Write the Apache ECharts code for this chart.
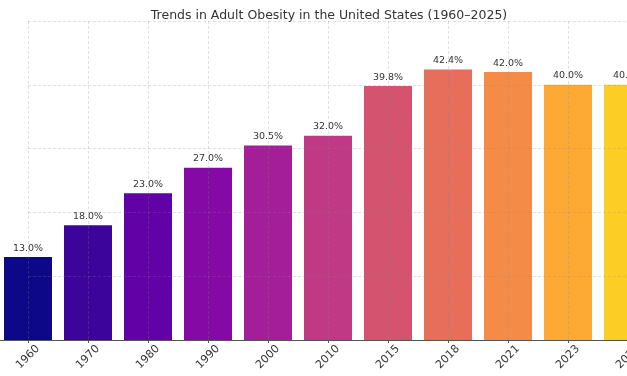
<!DOCTYPE html>
<html>
<head>
<meta charset="utf-8">
<script src="https://cdn.jsdelivr.net/npm/echarts@6/dist/echarts.min.js"></script>
<style>html,body{margin:0;padding:0;background:#fff;overflow:hidden;width:627px;height:376px;position:relative;}#c{position:absolute;left:-40px;top:0;width:740px;height:376px;}</style>
</head>
<body>
<div id="c"></div>
<script>
var years = ['1960','1970','1980','1990','2000','2010','2015','2018','2021','2023','2025'];
var obesity = [13.0, 18.0, 23.0, 27.0, 30.5, 32.0, 39.8, 42.4, 42.0, 40.0, 40.0];
var barColors = ['#0d0887','#3c049b','#6201a6','#8409a5','#a31e98','#bf3984','#d4536f','#e66e5b','#f48b47','#fcaa34','#fcce25'];
var yTicks = [0, 10, 20, 30, 40, 50];

var OFF = 40;
var chart = echarts.init(document.getElementById('c'), null, {renderer: 'canvas'});
var gridTop = 21, gridBottom = 36;
var gridColor = 'rgba(137,137,137,0.25)';
var option = {
  backgroundColor: '#fff',
  animation: false,
  title: {
    text: 'Trends in Adult Obesity in the United States (1960\u20132025)',
    left: 324 + OFF, top: 4, textAlign: 'center',
    textStyle: {fontFamily: 'DejaVu Sans', fontSize: 12.5, fontWeight: 'normal', color: '#333'}
  },
  grid: [
    {left: -2 + OFF, width: 660, top: gridTop, bottom: gridBottom, containLabel: false},
    {left: 28 + OFF, width: 660, top: gridTop, bottom: gridBottom, containLabel: false}
  ],
  xAxis: [
    {
      type: 'category', gridIndex: 0, data: years, z: 4,
      axisLine: {show: true, lineStyle: {color: '#555', width: 1}},
      axisTick: {show: true, alignWithLabel: true, length: 3, lineStyle: {color: '#555'}},
      axisLabel: {rotate: 45, align: 'center', verticalAlign: 'middle', margin: 17,
        fontFamily: 'DejaVu Sans', fontSize: 11, color: '#333', interval: 0},
      splitLine: {show: false}
    },
    {
      type: 'value', gridIndex: 1, min: 0, max: 11, interval: 1, z: 3,
      axisLine: {show: false}, axisTick: {show: false}, axisLabel: {show: false},
      splitLine: {show: true, lineStyle: {color: gridColor, width: 1, type: [3, 2]}}
    }
  ],
  yAxis: [
    {
      type: 'value', gridIndex: 0, min: yTicks[0], max: yTicks[yTicks.length - 1], interval: 10,
      axisLine: {show: false}, axisTick: {show: false}, axisLabel: {show: false},
      splitLine: {show: false}
    },
    {
      type: 'value', gridIndex: 1, min: yTicks[0], max: yTicks[yTicks.length - 1], interval: 10, z: 3,
      axisLine: {show: false}, axisTick: {show: false}, axisLabel: {show: false},
      splitLine: {show: true, lineStyle: {color: gridColor, width: 1, type: [3, 2]}}
    }
  ],
  series: [
    {
      type: 'bar', xAxisIndex: 0, yAxisIndex: 0, barWidth: '80%', z: 2,
      data: obesity.map(function (v, i) { return {value: v, itemStyle: {color: barColors[i]}}; }),
      label: {show: true, position: 'top', distance: 4,
        formatter: function (p) { return p.value.toFixed(1) + '%'; },
        fontFamily: 'DejaVu Sans', fontSize: 9.5, color: '#333'}
    },
    {type: 'scatter', xAxisIndex: 1, yAxisIndex: 1, data: [], silent: true}
  ]
};
chart.setOption(option);
</script>
</body>
</html>
